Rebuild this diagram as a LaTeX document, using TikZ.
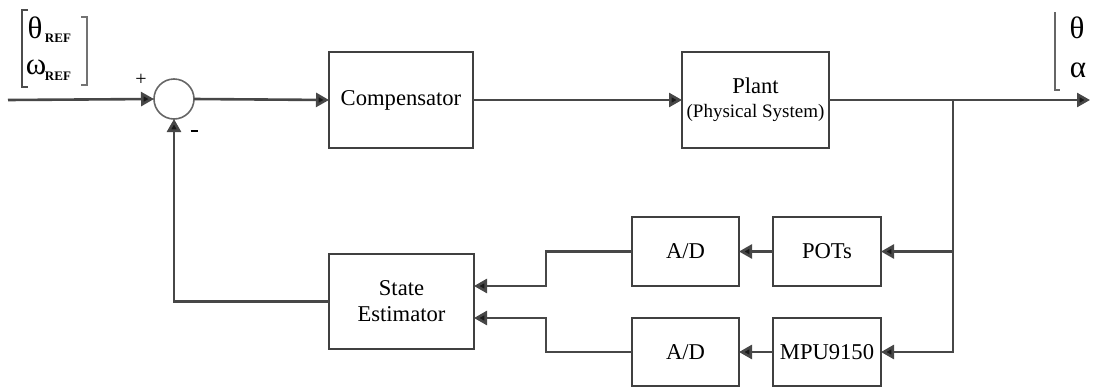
\documentclass[tikz,border=0pt]{standalone}
\usepackage{fontspec}
\setmainfont{Liberation Serif}
\usetikzlibrary{arrows.meta}
\begin{document}
\begin{tikzpicture}[x=0.5pt,y=-0.5pt,
  wire/.style={draw=black!72,line width=1.3pt},
  arr/.style={wire,-{Triangle[length=6.5pt,width=7pt,fill=black!90]}},
  blk/.style={draw=black!75,line width=1.2pt,fill=white,inner sep=0pt,outer sep=0pt,align=center,font=\fontsize{11.3}{13}\selectfont},
  greek/.style={font=\fontsize{15.5}{17}\selectfont,inner sep=0pt},
  sub/.style={font=\fontsize{6.5}{7}\bfseries\selectfont,inner sep=0pt},
  sgn/.style={font=\fontsize{10}{11}\selectfont,inner sep=0pt}]
\useasboundingbox (0,0) rectangle (1099,386);
% blocks
\node[circle,draw=black!60,line width=0.8pt,minimum size=20pt,inner sep=0pt,outer sep=0pt] (sum) at (174,99) {};
\node[blk,minimum width=72pt,minimum height=48pt] (comp) at (401,100) {Compensator};
\node[blk,minimum width=73.5pt,minimum height=48pt] (plant) at (755.5,100) {Plant\\[-1pt]{\fontsize{9.5}{11}\selectfont(Physical System)}};
\node[blk,minimum width=54pt,minimum height=34.5pt] (pots) at (827,251.5) {POTs};
\node[blk,minimum width=53.5pt,minimum height=34.5pt] (ad1) at (685.5,251.5) {A/D};
\node[blk,minimum width=54pt,minimum height=34pt] (mpu) at (827,352) {MPU9150};
\node[blk,minimum width=53.5pt,minimum height=34pt] (ad2) at (685.5,352) {A/D};
\node[blk,minimum width=72.5pt,minimum height=47.5pt] (est) at (401.5,301.5) {State\\Estimator};
% free ends
\coordinate (in) at (8,100);
\coordinate (out) at (1090,100);
\coordinate (br) at (953,100);
% connectors
\draw[arr] (in) -- (sum.west);
\draw[arr] (sum.east) -- (comp.west);
\draw[arr] (comp.east) -- (plant.west);
\draw[arr] (plant.east) -- (out);
\draw[arr] (br) |- (pots.east);
\draw[arr] (br) |- (mpu.east);
\draw[arr] (pots.west) -- (ad1.east);
\draw[arr] (mpu.west) -- (ad2.east);
\draw[arr] (ad1.west) -- ++(-86,0) |- ([yshift=7.75pt]est.east);
\draw[arr] (ad2.west) -- ++(-86,0) |- ([yshift=-8.25pt]est.east);
\draw[arr] (est.west) -| (sum.south);
% signs
\node[sgn] (plus) at (141,80) {+};
\node[sgn] (minus) at (194,131) {\rule{3.5pt}{1.4pt}};
% reference vector
\draw[draw=black!70,line width=1pt] (28,10) -- (22,10) -- (22,87) -- (28,87);
\draw[draw=black!55,line width=1pt] (81,17) -- (87,17) -- (87,85) -- (81,85);
\node[greek] (th) at (35,28) {θ};
\node[sub] (thsub) at (58,38) {REF};
\node[greek] (om) at (36,67) {ω};
\node[sub] (omsub) at (58,76) {REF};
% output vector
\draw[draw=black!60,line width=1pt] (1055,12) -- (1055,90) -- (1060,90);
\node[greek] (tho) at (1077,28) {θ};
\node[greek] (al) at (1078,70) {α};
\end{tikzpicture}
\end{document}
